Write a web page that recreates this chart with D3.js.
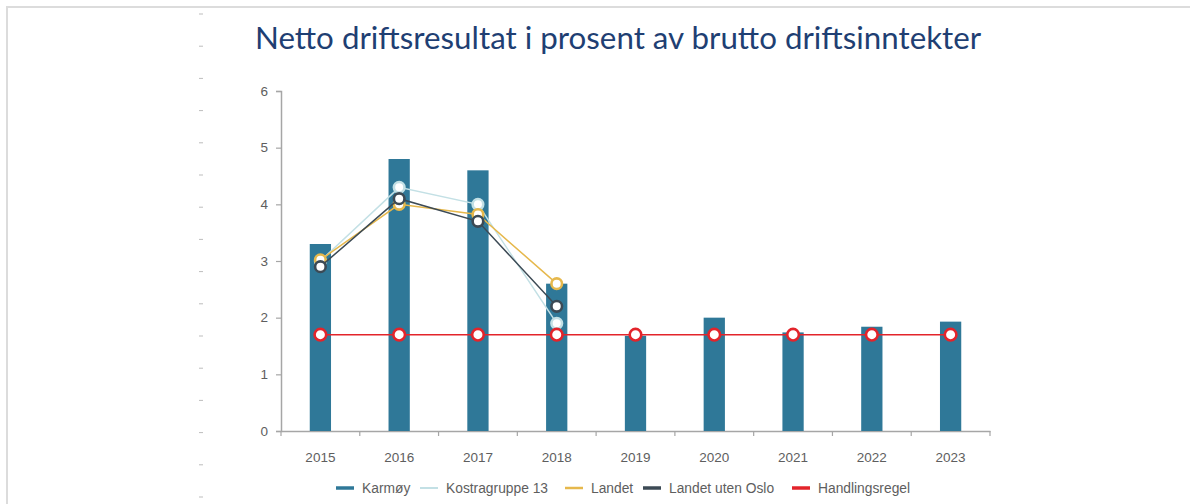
<!DOCTYPE html>
<html>
<head>
<meta charset="utf-8">
<script src="https://cdn.jsdelivr.net/npm/d3@7"></script>
<style>
  body { margin: 0; background: #fff; }
  svg { display: block; }
</style>
</head>
<body>
<svg id="chart" width="1190" height="504"></svg>
<script>
// data
const years = ['2015', '2016', '2017', '2018', '2019', '2020', '2021', '2022', '2023']
const karmoy = [3.3, 4.8, 4.6, 2.6, 1.68, 2.0, 1.74, 1.84, 1.93]
const kostra13 = [3.0, 4.3, 4.0, 1.9]
const landet = [3.02, 4.0, 3.82, 2.6]
const utenOslo = [2.9, 4.1, 3.7, 2.2]
const handlingsregel = [1.7, 1.7, 1.7, 1.7, 1.7, 1.7, 1.7, 1.7, 1.7]
const yTicks = [0, 1, 2, 3, 4, 5, 6]

const title = 'Netto driftsresultat i prosent av brutto driftsinntekter'
const legendItems = [
  { name: 'Karmøy', color: '#2f7898', w: 3.5 },
  { name: 'Kostragruppe 13', color: '#c3e0e5', w: 2 },
  { name: 'Landet', color: '#e6b84c', w: 2.5 },
  { name: 'Landet uten Oslo', color: '#3c4a55', w: 3.5 },
  { name: 'Handlingsregel', color: '#e3242b', w: 3.5 },
]

const svg = d3.select('#chart')

// frame lines and the little dashes on the left
svg.append('line').attr('x1', 6).attr('x2', 1190).attr('y1', 7).attr('y2', 7)
  .attr('stroke', '#dcdcdc').attr('stroke-width', 2)
svg.append('line').attr('x1', 7).attr('x2', 7).attr('y1', 7).attr('y2', 504)
  .attr('stroke', '#dcdcdc').attr('stroke-width', 2)
svg.append('g').selectAll('line').data(d3.range(16)).join('line')
  .attr('x1', 199).attr('x2', 203)
  .attr('y1', (d) => 14 + d * 32.2).attr('y2', (d) => 14 + d * 32.2)
  .attr('stroke', '#bdbdbd').attr('stroke-width', 1)

// title
svg.append('text')
  .attr('x', 255).attr('y', 49)
  .attr('font-family', 'Lato, sans-serif')
  .attr('font-size', 31.3)
  .attr('fill', '#1f3f73')
  .text(title)

const x = d3.scaleBand().domain(years).range([281, 990])
const y = d3.scaleLinear().domain([0, 6]).range([431, 91])
const cx = (d) => x(d) + x.bandwidth() / 2
const barW = x.bandwidth() * 0.27

const labelFont = 'Liberation Sans, Arial, sans-serif'

// y axis
const yAxis = svg.append('g')
  .attr('transform', 'translate(281,0)')
  .call(d3.axisLeft(y).tickValues(yTicks).tickSize(5).tickPadding(8).tickFormat(d3.format('d')))
yAxis.select('.domain').attr('stroke', '#a6a6a6').attr('stroke-width', 1.5)
yAxis.selectAll('.tick line').attr('stroke', '#a6a6a6').attr('stroke-width', 1.2)
yAxis.selectAll('.tick text').attr('fill', '#5e5e5e')
  .attr('font-family', labelFont).attr('font-size', 13.5)

// x axis, ticks between the categories
const xAxis = svg.append('g')
  .attr('transform', 'translate(0,431)')
  .call(d3.axisBottom(x).tickSize(0).tickPadding(21))
xAxis.select('.domain').attr('stroke', '#a6a6a6').attr('stroke-width', 1.5)
xAxis.selectAll('.tick text').attr('fill', '#5e5e5e')
  .attr('font-family', labelFont).attr('font-size', 13.5)
xAxis.selectAll('.edge').data(years.map((d) => x(d)).concat([x.range()[1]])).join('line')
  .attr('class', 'edge')
  .attr('x1', (d) => d).attr('x2', (d) => d).attr('y1', 0).attr('y2', 5)
  .attr('stroke', '#a6a6a6').attr('stroke-width', 1.2)

// bars
svg.append('g').selectAll('rect').data(karmoy).join('rect')
  .attr('x', (d, i) => cx(years[i]) - barW / 2)
  .attr('width', barW)
  .attr('y', (d) => y(d))
  .attr('height', (d) => y(0) - y(d))
  .attr('fill', '#2f7898')

// lines with ring markers
const drawSeries = (values, color, lineW, r) => {
  const pts = values.map((v, i) => [cx(years[i]), y(v)])
  svg.append('path')
    .datum(pts)
    .attr('fill', 'none')
    .attr('stroke', color)
    .attr('stroke-width', lineW)
    .attr('d', d3.line())
  svg.append('g').selectAll('circle').data(pts).join('circle')
    .attr('cx', (d) => d[0]).attr('cy', (d) => d[1])
    .attr('r', r)
    .attr('fill', '#fff')
    .attr('stroke', color)
    .attr('stroke-width', 2.6)
}
drawSeries(kostra13, '#c3e0e5', 1.5, 5.3)
drawSeries(landet, '#e6b84c', 1.5, 5.3)
drawSeries(utenOslo, '#3c4a55', 1.5, 5.3)
drawSeries(handlingsregel, '#e3242b', 1.5, 5.8)

// legend
const legendX = [336, 420, 565, 643, 792]
const legend = svg.append('g').attr('font-family', labelFont)
  .attr('font-size', 13.8).attr('fill', '#5e5e5e')
legendItems.forEach((item, i) => {
  legend.append('line')
    .attr('x1', legendX[i]).attr('x2', legendX[i] + 18)
    .attr('y1', 488).attr('y2', 488)
    .attr('stroke', item.color).attr('stroke-width', item.w)
  legend.append('text')
    .attr('x', legendX[i] + 26).attr('y', 493)
    .text(item.name)
})
</script>
</body>
</html>
